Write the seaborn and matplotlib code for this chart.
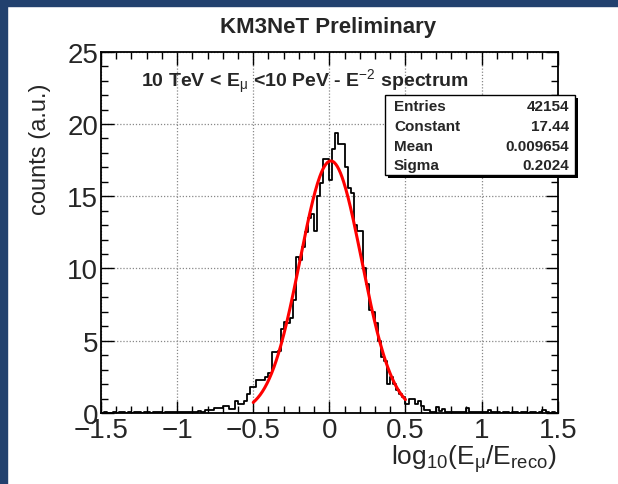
import numpy as np
import pandas as pd
import matplotlib
matplotlib.use("Agg")
import matplotlib.pyplot as plt
from matplotlib.patches import Rectangle
import seaborn as sns

# histogram: 150 bins of width 0.02 from -1.5 to 1.5
bin_edges = [round(-1.5 + 0.02 * i, 3) for i in range(151)]
counts = [
    0.00, 0.05, 0.00, 0.00, 0.05, 0.00, 0.05, 0.05, 0.00, 0.05,
    0.00, 0.05, 0.05, 0.00, 0.05, 0.05, 0.00, 0.05, 0.05, 0.05,
    0.00, 0.05, 0.05, 0.08, 0.05, 0.10, 0.08, 0.10, 0.10, 0.08,
    0.10, 0.10, 0.12, 0.10, 0.20, 0.20, 0.20, 0.33, 0.33, 0.33,
    0.50, 0.50, 0.30, 0.30, 0.85, 0.62, 0.62, 0.85, 1.30, 1.80,
    1.80, 2.26, 2.26, 2.30, 2.50, 2.80, 4.20, 4.20, 4.30, 5.80,
    6.30, 6.20, 6.60, 7.80, 10.8, 10.6, 11.5, 12.5, 13.5, 13.8,
    12.6, 15.0, 15.9, 17.6, 17.6, 16.1, 18.3, 19.4, 18.6, 18.6,
    17.0, 15.6, 15.2, 13.0, 12.6, 12.6, 10.0, 8.90, 7.10, 7.00,
    6.20, 5.00, 3.90, 3.60, 2.00, 2.50, 2.00, 1.57, 1.30, 1.10,
    0.65, 0.97, 0.97, 0.62, 0.85, 0.50, 0.20, 0.20, 0.10, 0.10,
    0.40, 0.16, 0.28, 0.08, 0.08, 0.08, 0.05, 0.08, 0.05, 0.08,
    0.33, 0.10, 0.10, 0.05, 0.10, 0.05, 0.10, 0.23, 0.05, 0.05,
    0.05, 0.00, 0.05, 0.05, 0.00, 0.05, 0.05, 0.00, 0.05, 0.05,
    0.00, 0.05, 0.05, 0.00, 0.05, 0.20, 0.05, 0.00, 0.05, 0.00,
]
bin_centers = [round((a + b) / 2, 3) for a, b in zip(bin_edges[:-1], bin_edges[1:])]

# fit result shown in the stats box
fit_const, fit_mean, fit_sigma = 17.44, 0.009654, 0.2024
fit_range = (-0.5, 0.5)
stats_labels = ["Entries", "Constant", "Mean", "Sigma"]
stats_values = ["42154", "17.44", "0.009654", "0.2024"]

x_ticks = [-1.5, -1, -0.5, 0, 0.5, 1, 1.5]
x_ticklabels = ["\u22121.5", "\u22121", "\u22120.5", "0", "0.5", "1", "1.5"]
y_ticks = [0, 5, 10, 15, 20, 25]

sns.set_style("ticks")
plt.rcParams['font.family'] = ['Liberation Sans', 'DejaVu Sans']
plt.rcParams['mathtext.fontset'] = 'custom'
plt.rcParams['mathtext.rm'] = 'Liberation Sans'
plt.rcParams['mathtext.it'] = 'Liberation Sans'
plt.rcParams['mathtext.bf'] = 'Liberation Sans:bold'

W, H = 618, 485
fig = plt.figure(figsize=(W / 100, H / 100), dpi=100)
fig.patch.set_facecolor('white')
blue = '#22416e'
fig.patches.append(Rectangle((0, 0), 7 / W, 1, transform=fig.transFigure, color=blue, zorder=-1))
fig.patches.append(Rectangle((0, 1 - 7 / H), 1, 7 / H, transform=fig.transFigure, color=blue, zorder=-1))

ax = fig.add_axes([101 / W, 1 - 414 / H, 456.7 / W, 361.3 / H])

df = pd.DataFrame({'x': bin_centers, 'w': counts})
sns.histplot(data=df, x='x', weights='w', bins=bin_edges, element='step', fill=False,
             color='black', linewidth=1.3, ax=ax)

xf = np.linspace(fit_range[0], fit_range[1], 200)
yf = fit_const * np.exp(-0.5 * ((xf - fit_mean) / fit_sigma) ** 2)
sns.lineplot(x=xf, y=yf, color='#ff0000', linewidth=2.2, ax=ax)

ax.set_xlim(-1.5, 1.5)
ax.set_ylim(0, 25)
ax.set_xticks(x_ticks)
ax.set_xticklabels(x_ticklabels)
ax.set_yticks(y_ticks)
ax.set_xticks(np.arange(-1.5, 1.51, 0.1), minor=True)
ax.set_yticks(np.arange(0, 25.1, 1), minor=True)
ax.tick_params(which='both', direction='in', top=True, right=True, color='black')
ax.tick_params(which='major', length=9, width=1, labelsize=20, pad=2)
ax.tick_params(axis='x', which='major', pad=3)
ax.tick_params(which='minor', length=5, width=1)
ax.grid(True, which='major', color='#888888', linestyle=(0, (1, 1.5)), linewidth=0.9)
for s in ax.spines.values():
    s.set_linewidth(1.3)
    s.set_color('black')
ax.set_xlabel('')
ax.set_ylabel('')

fig.text(328 / W, 1 - 33 / H, 'KM3NeT Preliminary', ha='center', va='baseline',
         fontsize=16, fontweight='bold')
fig.text(40 / W, 1 - 149 / H, 'counts (a.u.)', rotation=90, ha='center', va='center', fontsize=17)
fig.text(557 / W, 1 - 459 / H, r'log$_{10}$(E$_{\mu}$/E$_{\rm reco}$)', ha='right', va='center', fontsize=19)

fig.text(141 / W, 1 - 87 / H, r'10 TeV < E$_{\mu}$ <10 PeV - E$^{-2}$ spectrum',
         ha='left', va='baseline', fontsize=14, fontweight='bold')

# stats box
bx0, bx1, by0, by1 = 385, 575, 96, 176
fig.patches.append(Rectangle(((bx0 + 3) / W, 1 - (by1 + 3) / H), (bx1 - bx0) / W, (by1 - by0) / H,
                             transform=fig.transFigure, facecolor='black', edgecolor='none', zorder=5))
fig.patches.append(Rectangle((bx0 / W, 1 - by1 / H), (bx1 - bx0) / W, (by1 - by0) / H,
                             transform=fig.transFigure, facecolor='white', edgecolor='black',
                             linewidth=1, zorder=6))
for i, (lab, val) in enumerate(zip(stats_labels, stats_values)):
    yy = 1 - (111 + 19.8 * i) / H
    fig.text(394 / W, yy, lab, ha='left', va='baseline', fontsize=11, fontweight='bold', zorder=7)
    fig.text(569 / W, yy, val, ha='right', va='baseline', fontsize=11, fontweight='bold', zorder=7)

fig.savefig('out.png', dpi=100)
